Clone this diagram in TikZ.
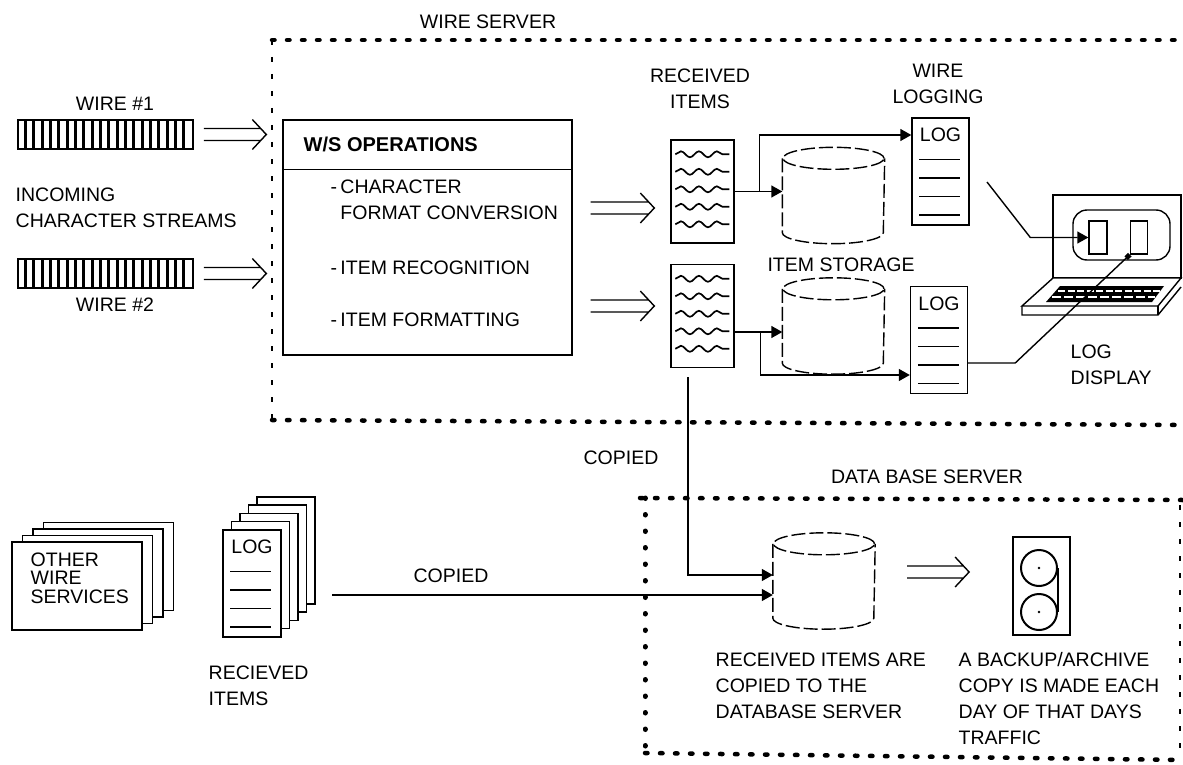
\documentclass[tikz,border=0pt]{standalone}
\usepackage{fontspec}
\setmainfont{Liberation Sans}
\usetikzlibrary{arrows.meta, decorations.pathmorphing, positioning, calc}

\begin{document}
\begin{tikzpicture}[x=1pt, y=-1pt, line width=1.4pt,
    every node/.style={font=\fontsize{19.5}{26}\selectfont, inner sep=0pt},
    txt/.style={align=left, anchor=west},
    dots/.style={line width=4.5pt, line cap=round, dash pattern=on 2.5pt off 12.5pt},
    rdots/.style={line width=5pt, line cap=round, dash pattern=on 0.5pt off 16pt},
    tdots/.style={line width=2.5pt, dash pattern=on 5pt off 12pt},
    box/.style={rectangle, draw, fill=white},
    strip/.style={rectangle, draw, line width=1.6pt, minimum width=175pt, minimum height=29pt},
    items/.style={rectangle, draw, minimum width=63pt, minimum height=103pt},
    logbox/.style={rectangle, draw, fill=white, minimum width=57pt, minimum height=107pt},
    store/.style={rectangle, minimum width=101pt, minimum height=95pt},
    dashc/.style={dash pattern=on 14pt off 4pt},
    dblarr/.style={to path={($(\tikztostart)+(0,-6)$) -- ($(\tikztotarget)+(-6,-6)$)
        ($(\tikztostart)+(0,6)$) -- ($(\tikztotarget)+(-6,6)$)
        ($(\tikztotarget)+(-14,-15)$) -- (\tikztotarget) -- ($(\tikztotarget)+(-14,15)$)}},
    feed/.style={-{Triangle[length=11pt, width=12pt]}},
    wave/.style={line width=1.7pt, decorate, decoration={snake, amplitude=3pt, segment length=18pt}}]
    \useasboundingbox (0,0) rectangle (1183,765);

    \draw[dots] (272,40) -- (1183,40);
    \draw[tdots] (272,40) -- (272,420);
    \draw[dots] (272,420) -- (1183,425);
    \node at (488,22) (ws) {WIRE SERVER};

    \node at (115,104) (w1) {WIRE \#1};
    \node[strip] at (105.5,134.5) (wire1) {};
    \node[txt] at (15,208) (incoming) {INCOMING\\CHARACTER STREAMS};
    \node[strip] at (105.5,273.5) (wire2) {};
    \node at (115,305) (w2) {WIRE \#2};
    \foreach \w in {wire1, wire2}
        \foreach \k in {1,...,20}
            \draw[line width=3pt] ($(\w.north west)+(\k*8.33,0)$) -- ++(0,29);

    \node[box, minimum width=289pt, minimum height=235pt] at (427.5,237.5) (ops) {};
    \draw ($(ops.north west)+(0,50)$) -- ($(ops.north east)+(0,50)$);
    \node[txt, font=\fontsize{20}{26}\selectfont\bfseries] at (303,144) (opst) {W/S OPERATIONS};
    \node[txt] at (330,200) (op1) {-\,CHARACTER\\\hphantom{-\,}FORMAT CONVERSION};
    \node[txt] at (330,268) (op2) {-\,ITEM RECOGNITION};
    \node[txt] at (330,320) (op3) {-\,ITEM FORMATTING};

    \draw[dblarr] ($(wire1.east)+(10,0)$) to ($(wire1.east -| ops.west)+(-16,0)$);
    \draw[dblarr] ($(wire2.east)+(10,0)$) to ($(wire2.east -| ops.west)+(-16,0)$);

    \node[align=center] at (700,89) (rit) {RECEIVED\\ITEMS};
    \node[items] at (702.5,191.5) (items1) {};
    \node[items] at (702.5,316) (items2) {};
    \foreach \b in {items1, items2}
        \foreach \k in {0,...,4}
            \draw[wave] ($(\b.north west)+(5,15+17.5*\k)$) -- ++(54,0);

    \draw[dblarr] ([shift={(18,-29.5)}]ops.east) to ($(ops.east -| items1.west)+(-16,-29.5)$);
    \draw[dblarr] ([shift={(18,68.5)}]ops.east) to ($(ops.east -| items2.west)+(-16,68.5)$);

    \node[store] at (833.5,195.5) (store1) {};
    \node[store] at (833.5,326) (store2) {};
    \node at (841,265) (storage) {ITEM STORAGE};

    \node[align=center] at (938,84) (wl) {WIRE\\LOGGING};
    \node[logbox] at (940.5,171.5) (log1) {};
    \node[logbox] at (939,340) (log2) {};

    \draw[feed] (items1.east) -- (items1.east -| store1.west);
    \draw[feed] ($(items1.east)+(25,0)$) |- ([yshift=36.5pt]log1.west);
    \draw[feed] ([yshift=-16pt]items2.east) -- ([yshift=-16pt]items2.east -| store2.west);
    \draw[feed] ($(items2.east)+(26,16)$) |- ([yshift=-35pt]log2.west);

    \draw (1053,195) rectangle (1181,278);
    \node[rectangle, draw, rounded corners=14pt, minimum width=97pt, minimum height=50pt] at (1121.5,235) (screen) {};
    \node[rectangle, draw, minimum width=18pt, minimum height=33pt] at (1098,237.5) (scr1) {};
    \node[rectangle, draw, minimum width=17pt, minimum height=33pt] at (1139,237.5) (scr2) {};
    \draw[fill=white] (1053,278) -- (1181,278) -- (1158,306) -- (1022,306) -- cycle;
    \draw (1022,306) -- (1022,315) -- (1158,315) -- (1181,287);
    \draw (1158,306) -- (1158,315);
    \fill (1060,286) -- (1164,286) -- (1152,302) -- (1046,302) -- cycle;
    \draw[white, line width=2pt, dash pattern=on 7pt off 2.5pt] (1058,291) -- (1160,291);
    \draw[white, line width=2pt, dash pattern=on 9pt off 3pt] (1052,297) -- (1155,297);
    \node[txt] at (1070,365) (ld) {LOG\\DISPLAY};

    \coordinate (lg1) at (987,182);
    \draw[feed] (lg1) -- ($(scr1.west)+(-58,0)$) -- (scr1.west);
    \draw[-{Square[length=5pt, width=5pt]}] ([yshift=-23pt]log2.east) -- ++(47,0) -- (scr2.south west);

    \draw[dots] (640,498) -- (1183,500);
    \draw[rdots] (645,498) -- (645,753);
    \draw[dots] (645,753) -- (1183,760);
    \draw[tdots] (1180,505) -- (1180,755);
    \node at (927,477) (dbs) {DATA BASE SERVER};

    \foreach \k in {3,2,1}
        \draw[fill=white] (12+10.5*\k, 542-6.5*\k) rectangle ++(130,88);
    \node[box, minimum width=130pt, minimum height=88pt] at (77,586) (other) {};
    \node[txt, font=\fontsize{19.5}{18.5}\selectfont] at (30,578) (othert) {OTHER\\WIRE\\SERVICES};

    \foreach \k in {4,3,2,1}
        \draw[fill=white] (223+8.5*\k, 530-8.3*\k) rectangle ++(58,107);
    \node[logbox, minimum width=58pt] at (252,583.5) (recv) {};
    \node[txt] at (208,686) (recvt) {RECIEVED\\ITEMS};

    \foreach \b in {log1, log2, recv} {
        \node[below=10pt of \b.north] (\b-t) {LOG};
        \foreach \k in {0,...,3}
            \draw ($(\b.north west)+(8,42+18.5*\k)$) -- ++(41,0);
    }

    \node[store] at (824,581) (store3) {};
    \foreach \b in {store1, store2, store3} {
        \draw[dashc] ($(\b.north west)+(0,11)$) -- ($(\b.south west)+(0,-11)$)
            arc[start angle=180, end angle=360, x radius=50.5pt, y radius=11pt]
            -- ($(\b.north east)+(0,11)$);
        \draw[dashc] ($(\b.north)+(0,11)$) ellipse [x radius=50.5pt, y radius=11pt];
    }

    \node[box, line width=1.8pt, minimum width=57pt, minimum height=98pt] at (1041.5,586) (tape) {};
    \node[circle, draw, line width=2pt, minimum size=36pt] at (1039,568) (reel1) {};
    \node[circle, draw, line width=2pt, minimum size=36pt] at (1039,612) (reel2) {};
    \draw[line width=2pt] (reel1.east) -- (reel2.east);
    \fill (reel1) circle (1.3pt) (reel2) circle (1.3pt);
    \draw[dblarr] ($(store3.east)+(32,-9)$) to ($(store3.east -| tape.west)+(-43,-9)$);

    \coordinate (cp) at (688,377);
    \coordinate (cq) at (332,595);
    \draw[feed] (cp) |- ([yshift=6pt]store3.west);
    \draw[feed] (cq) -- ([yshift=-14pt]store3.west);
    \node at (621,458) (cp-t) {COPIED};
    \node at (451,576) (cq-t) {COPIED};

    \node[txt] at (715,686) (dbt) {RECEIVED ITEMS ARE\\COPIED TO THE\\DATABASE SERVER};
    \node[txt] at (958,699) (bkt) {A BACKUP/ARCHIVE\\COPY IS MADE EACH\\DAY OF THAT DAYS\\TRAFFIC};
\end{tikzpicture}
\end{document}
